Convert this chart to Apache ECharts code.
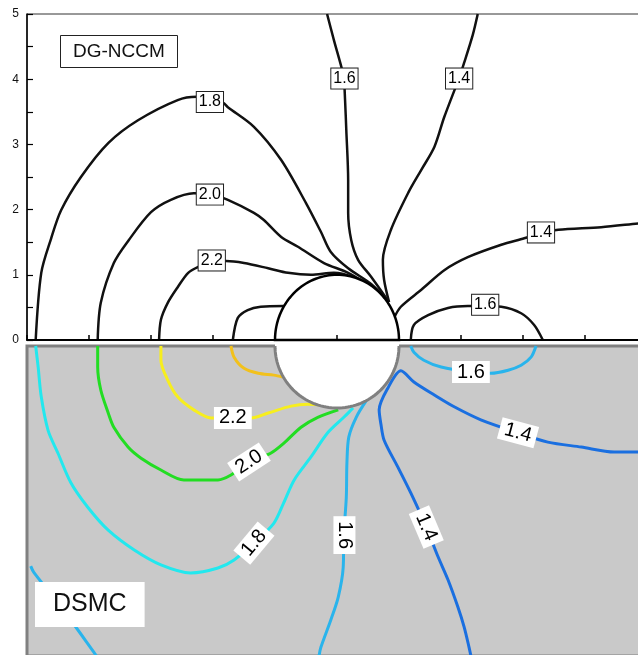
<!DOCTYPE html>
<html>
<head>
<meta charset="utf-8">
<script src="https://cdn.jsdelivr.net/npm/echarts@6/dist/echarts.min.js"></script>
<style>
  html, body { margin: 0; background: #fff; }
  #chart { width: 638px; height: 655px; }
</style>
</head>
<body>
<div id="chart"></div>
<script>
// DG-NCCM contours (upper half), [x, y]
const nccm18 = [[-4.86, 0], [-4.77, 1.03], [-4.61, 1.56], [-4.45, 1.99], [-4.13, 2.5], [-3.69, 3.02], [-3.21, 3.37], [-2.57, 3.68], [-2.26, 3.73], [-1.84, 3.64], [-1.76, 3.57], [-1.34, 3.27], [-0.9, 2.76], [-0.5, 2.1], [-0.26, 1.66], [-0.1, 1.35], [0.18, 1.1], [0.55, 0.86], [0.84, 0.58]]
const nccm20 = [[-3.86, 0], [-3.81, 0.57], [-3.6, 1.18], [-3.36, 1.53], [-3.0, 1.96], [-2.68, 2.15], [-2.31, 2.25], [-2.05, 2.24], [-1.76, 2.15], [-1.34, 1.95], [-1.18, 1.84], [-0.9, 1.58], [-0.63, 1.43], [-0.21, 1.18], [0.18, 1.03], [0.55, 0.81], [0.84, 0.58]]
const nccm22 = [[-2.87, 0], [-2.84, 0.31], [-2.73, 0.57], [-2.57, 0.81], [-2.4, 1.03], [-2.24, 1.12], [-2.02, 1.2], [-1.79, 1.21], [-1.5, 1.18], [-1.11, 1.1], [-0.79, 1.03], [-0.42, 1.0], [-0.05, 1.03], [0.23, 0.97], [0.6, 0.77], [0.84, 0.58]]
const nccm24 = [[-1.68, 0], [-1.6, 0.34], [-1.44, 0.46], [-1.23, 0.51], [-0.86, 0.52]]
const nccm16 = [[-0.16, 5.0], [-0.05, 4.6], [0.07, 4.19], [0.11, 4.02], [0.13, 3.68], [0.15, 3.22], [0.18, 2.45], [0.18, 1.95], [0.23, 1.53], [0.34, 1.23], [0.55, 0.97], [0.84, 0.58]]
const nccm14 = [[2.27, 5.0], [2.19, 4.68], [2.05, 4.25], [1.97, 4.02], [1.73, 3.42], [1.57, 2.96], [1.36, 2.61], [1.15, 2.26], [0.87, 1.69], [0.74, 1.23], [0.76, 0.92], [0.84, 0.58]]
const nccm14b = [[5.0, 1.8], [4.87, 1.79], [4.26, 1.73], [3.57, 1.69], [3.29, 1.64], [3.02, 1.56], [2.65, 1.46], [2.11, 1.27], [1.73, 1.07], [1.36, 0.77], [1.03, 0.51], [0.92, 0.34]]
const nccm16b = [[1.19, 0], [1.24, 0.23], [1.47, 0.38], [1.79, 0.49], [2.11, 0.52], [2.39, 0.52], [2.65, 0.51], [2.97, 0.41], [3.18, 0.23], [3.32, 0]]

// DSMC contours (lower half, mirrored), [x, y]
const dsmc24 = [[-1.71, 0], [-1.66, -0.18], [-1.5, -0.36], [-1.27, -0.44], [-1.02, -0.47], [-0.87, -0.5]]
const dsmc22 = [[-2.84, 0], [-2.84, -0.23], [-2.73, -0.55], [-2.57, -0.82], [-2.31, -1.03], [-2.03, -1.16], [-1.68, -1.16], [-1.39, -1.16], [-1.11, -1.08], [-0.74, -0.97], [-0.47, -0.94], [-0.23, -0.95]]
const dsmc20 = [[-3.86, 0], [-3.86, -0.34], [-3.81, -0.71], [-3.69, -1.08], [-3.6, -1.31], [-3.37, -1.63], [-3.16, -1.81], [-2.84, -2.0], [-2.47, -2.16], [-1.92, -2.16], [-1.71, -2.08], [-1.42, -1.87], [-1.07, -1.73], [-0.86, -1.57], [-0.58, -1.31], [-0.31, -1.15], [0.02, -1.03]]
const dsmc18 = [[-4.86, 0], [-4.82, -0.34], [-4.77, -0.82], [-4.66, -1.36], [-4.5, -1.73], [-4.29, -2.21], [-4.02, -2.6], [-3.69, -2.97], [-3.27, -3.29], [-2.84, -3.53], [-2.36, -3.66], [-1.92, -3.58], [-1.66, -3.45], [-1.34, -3.18], [-1.02, -2.86], [-0.86, -2.53], [-0.69, -2.16], [-0.42, -1.79], [-0.15, -1.4], [0.11, -1.15], [0.26, -1.0]]
const dsmc16a = [[-4.94, -3.55], [-4.89, -3.65], [-4.45, -4.21], [-3.92, -4.94], [-3.88, -5.0]]
const dsmc16 = [[0.48, -0.87], [0.31, -1.15], [0.19, -1.47], [0.16, -1.89], [0.15, -2.44], [0.11, -3.05], [0.1, -3.57], [0.02, -4.05], [-0.1, -4.42], [-0.26, -4.86], [-0.29, -5.0]]
const dsmc16b = [[1.19, 0], [1.24, -0.1], [1.4, -0.23], [1.68, -0.34], [2.16, -0.42], [2.48, -0.44], [2.76, -0.39], [2.97, -0.31], [3.13, -0.18], [3.21, 0]]
const dsmc14 = [[5.0, -1.71], [4.87, -1.71], [4.47, -1.71], [3.94, -1.63], [3.4, -1.55], [2.92, -1.4], [2.32, -1.19], [1.89, -0.98], [1.57, -0.79], [1.24, -0.58], [1.03, -0.4], [0.82, -0.68], [0.68, -1.03], [0.71, -1.27], [0.76, -1.52], [0.98, -1.95], [1.19, -2.37], [1.44, -2.92], [1.63, -3.4], [1.79, -3.77], [1.95, -4.21], [2.05, -4.53], [2.13, -4.86], [2.16, -5.0]]

// contour labels: [x, y, text] and [x, y, text, angle]
const nccmLabels = [[-2.05, 3.65, '1.8'], [-2.05, 2.23, '2.0'], [-2.02, 1.22, '2.2'], [0.12, 4.01, '1.6'], [1.97, 4.01, '1.4'], [3.29, 1.65, '1.4'], [2.39, 0.54, '1.6']]
const dsmcLabels = [[-1.68, -1.16, '2.2', 0], [-1.42, -1.87, '2.0', 33], [-1.34, -3.18, '1.8', 50], [0.12, -3.05, '1.6', -90], [1.44, -2.92, '1.4', -67], [2.92, -1.4, '1.4', -15], [2.16, -0.42, '1.6', 0]]

// body (cylinder): centre x, centre y, radius
const body = [[0, 0, 1]]

const yTicks = [0, 1, 2, 3, 4, 5]

const FONT = 'Liberation Sans'
const chart = echarts.init(document.getElementById('chart'))

const line = (data, color, width, idx) => ({
  type: 'line',
  xAxisIndex: idx,
  yAxisIndex: idx,
  data,
  symbol: 'none',
  smooth: 0.3,
  silent: true,
  z: 2,
  lineStyle: { color, width }
})

const arc = (api, from, to) => {
  const cx = api.value(0), cy = api.value(1), r = api.value(2)
  const pts = []
  for (let i = 0; i <= 72; i++) {
    const t = from + (to - from) * i / 72
    pts.push(api.coord([cx + r * Math.cos(t), cy + r * Math.sin(t)]))
  }
  return pts
}

const option = {
  animation: false,
  backgroundColor: '#fff',
  title: [
    {
      text: 'DG-NCCM',
      left: 60,
      top: 35,
      padding: [7, 13],
      backgroundColor: '#fff',
      borderColor: '#222',
      borderWidth: 1,
      textStyle: { fontSize: 19, fontWeight: 'normal', color: '#111', fontFamily: FONT }
    },
    {
      text: 'DSMC',
      left: 35,
      top: 582,
      padding: [10, 18],
      backgroundColor: '#fff',
      textStyle: { fontSize: 25, fontWeight: 'normal', color: '#111', fontFamily: FONT }
    }
  ],
  grid: [
    { left: 27, top: 14, width: 620, height: 326, outerBoundsMode: 'none', show: true, borderColor: '#333', borderWidth: 1, backgroundColor: '#fff' },
    { left: 27, top: 346, width: 620, height: 310, outerBoundsMode: 'none', show: true, borderColor: '#808080', borderWidth: 3, backgroundColor: '#c9c9c9' }
  ],
  xAxis: [
    {
      gridIndex: 0, type: 'value', min: -5, max: 5, interval: 1, z: 5,
      axisLine: { onZero: false, lineStyle: { color: '#000', width: 2 } },
      axisTick: { inside: true, length: 5, lineStyle: { color: '#000', width: 1.5 } },
      axisLabel: { show: false },
      splitLine: { show: false }
    },
    { gridIndex: 1, type: 'value', min: -5, max: 5, show: false }
  ],
  yAxis: [
    {
      gridIndex: 0, type: 'value', min: yTicks[0], max: yTicks[yTicks.length - 1], interval: 1, z: 5,
      axisLine: { onZero: false, lineStyle: { color: '#000', width: 1.5 } },
      axisTick: { inside: true, length: 6, lineStyle: { color: '#000', width: 1.2 } },
      minorTick: { show: true, splitNumber: 2, length: 6, lineStyle: { color: '#000', width: 1.2 } },
      axisLabel: { margin: 8, fontSize: 12, color: '#111', fontFamily: FONT },
      splitLine: { show: false }
    },
    { gridIndex: 1, type: 'value', min: -5, max: 0, show: false }
  ],
  series: [
    line(nccm18, '#111', 2.5, 0),
    line(nccm20, '#111', 2.5, 0),
    line(nccm22, '#111', 2.5, 0),
    line(nccm24, '#111', 2.5, 0),
    line(nccm16, '#111', 2.5, 0),
    line(nccm14, '#111', 2.5, 0),
    line(nccm14b, '#111', 2.5, 0),
    line(nccm16b, '#111', 2.5, 0),
    line(dsmc24, '#f2c11c', 3, 1),
    line(dsmc22, '#f7ee1e', 3, 1),
    line(dsmc20, '#22dd22', 3, 1),
    line(dsmc18, '#22e8ee', 3, 1),
    line(dsmc16a, '#29b4ec', 3, 1),
    line(dsmc16, '#29b4ec', 3, 1),
    line(dsmc16b, '#29b4ec', 3, 1),
    line(dsmc14, '#1a6fe0', 3, 1),
    {
      type: 'custom',
      xAxisIndex: 0,
      yAxisIndex: 0,
      data: body,
      z: 3,
      silent: true,
      renderItem: (params, api) => ({
        type: 'polygon',
        shape: { points: arc(api, 0, Math.PI) },
        style: { fill: '#fff', stroke: '#000', lineWidth: 2.5 }
      })
    },
    {
      type: 'custom',
      xAxisIndex: 1,
      yAxisIndex: 1,
      data: body,
      z: 3,
      silent: true,
      renderItem: (params, api) => {
        const pts = arc(api, Math.PI, 2 * Math.PI)
        const fill = pts.slice()
        const a = pts[0], b = pts[pts.length - 1]
        fill.push([b[0], b[1] - 3], [a[0], a[1] - 3])
        return {
          type: 'group',
          children: [
            { type: 'polygon', shape: { points: fill }, style: { fill: '#fff', stroke: null } },
            { type: 'polyline', shape: { points: pts }, style: { fill: null, stroke: '#808080', lineWidth: 3 } }
          ]
        }
      }
    },
    {
      type: 'scatter',
      xAxisIndex: 0,
      yAxisIndex: 0,
      symbolSize: 1,
      z: 4,
      silent: true,
      itemStyle: { color: 'rgba(0,0,0,0)', opacity: 1 },
      data: nccmLabels.map(d => ({ value: [d[0], d[1]], name: d[2] })),
      label: {
        show: true,
        position: 'inside',
        formatter: '{b}',
        backgroundColor: '#fff',
        borderColor: '#222',
        borderWidth: 1,
        padding: [1, 2],
        fontSize: 16,
        lineHeight: 18,
        color: '#000',
        fontFamily: FONT
      }
    },
    {
      type: 'scatter',
      xAxisIndex: 1,
      yAxisIndex: 1,
      symbolSize: 1,
      z: 4,
      silent: true,
      itemStyle: { color: 'rgba(0,0,0,0)', opacity: 1 },
      data: dsmcLabels.map(d => ({ value: [d[0], d[1]], name: d[2], label: { rotate: d[3] } })),
      label: {
        show: true,
        position: 'inside',
        formatter: '{b}',
        backgroundColor: '#fff',
        padding: [1, 5],
        fontSize: 20,
        lineHeight: 20,
        color: '#000',
        fontFamily: FONT
      }
    }
  ]
}

chart.setOption(option)
</script>
</body>
</html>
